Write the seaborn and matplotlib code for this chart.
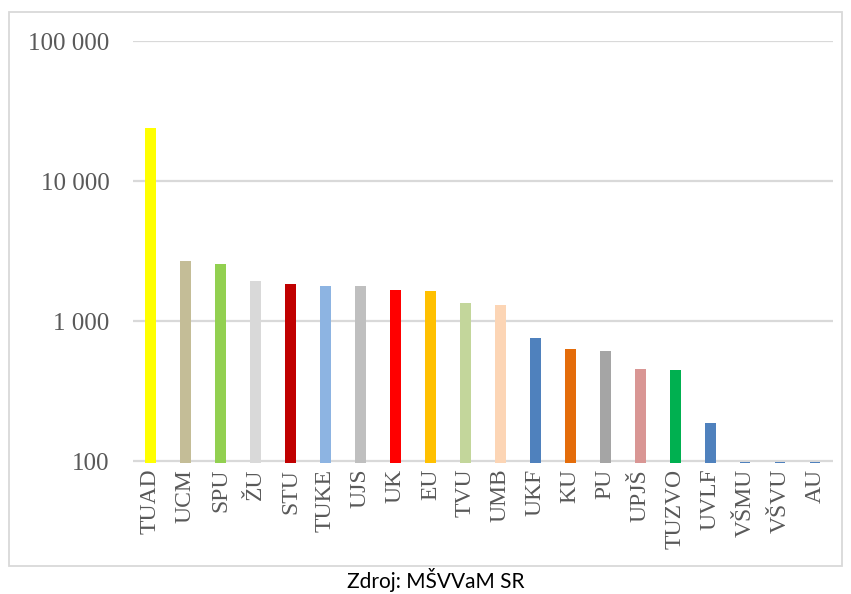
import matplotlib
matplotlib.use("Agg")
import matplotlib.pyplot as plt
import seaborn as sns
import pandas as pd
from matplotlib.patches import Rectangle
from matplotlib.ticker import FixedLocator, FixedFormatter

schools = ["TUAD", "UCM", "SPU", "ŽU", "STU", "TUKE", "UJS", "UK", "EU", "TVU",
           "UMB", "UKF", "KU", "PU", "UPJŠ", "TUZVO", "UVLF", "VŠMU", "VŠVU", "AU"]
values = [23900, 2680, 2550, 1930, 1840, 1780, 1775, 1665, 1635, 1345,
          1300, 760, 630, 610, 455, 447, 188, 98, 98, 98]
colors = ["#FFFF00", "#C4BD97", "#92D050", "#D9D9D9", "#C00000", "#8DB4E2",
          "#BFBFBF", "#FF0000", "#FFC000", "#C3D69B", "#FCD5B5", "#4F81BD",
          "#E46C0A", "#A5A5A5", "#D99694", "#00B050", "#4F81BD", "#4F81BD",
          "#4F81BD", "#4F81BD"]
ytick_vals = [100, 1000, 10000, 100000]
ytick_labels = ["100", "1 000", "10 000", "100 000"]
source = "Zdroj: MŠVVaM SR"

df = pd.DataFrame({"school": schools, "value": values})

fig = plt.figure(figsize=(8.51, 5.94), dpi=100)
fig.patch.set_facecolor("white")
# outer border
fig.patches.append(Rectangle((8.5 / 851, 1 - 566 / 594), (842 - 8.5) / 851, (566 - 11.5) / 594,
                             transform=fig.transFigure, fill=False,
                             edgecolor="#D9D9D9", linewidth=1.3))

ax = fig.add_axes([133 / 851, 1 - 463.2 / 594, 699.7 / 851, (463.2 - 41) / 594])
ax.set_yscale("log")
sns.barplot(data=df, x="school", y="value", hue="school", palette=colors,
            legend=False, width=0.3, ax=ax, saturation=1)
ax.set_ylim(96.5, 100000)
ax.set_xlim(-0.5, len(schools) - 0.5)

for v in ytick_vals:
    ax.axhline(v, color="#D9D9D9", linewidth=1.6, zorder=0)

ax.yaxis.set_major_locator(FixedLocator(ytick_vals))
ax.yaxis.set_major_formatter(FixedFormatter(ytick_labels))
ax.yaxis.set_minor_locator(FixedLocator([]))
ax.tick_params(axis="y", length=0, pad=17, labelsize=18, labelcolor="#595959")
ax.tick_params(axis="x", length=0, pad=4, labelsize=17, labelcolor="#595959", rotation=90)
for lab in ax.get_xticklabels() + ax.get_yticklabels():
    lab.set_fontfamily("Liberation Serif")
ax.set_xlabel("")
ax.set_ylabel("")
for s in ax.spines.values():
    s.set_visible(False)
ax.set_facecolor("none")

fig.text(436 / 851, 1 - 580 / 594, source, ha="center", va="center",
         fontsize=15, family="Lato", color="black")

fig.savefig("out.png", dpi=100)
